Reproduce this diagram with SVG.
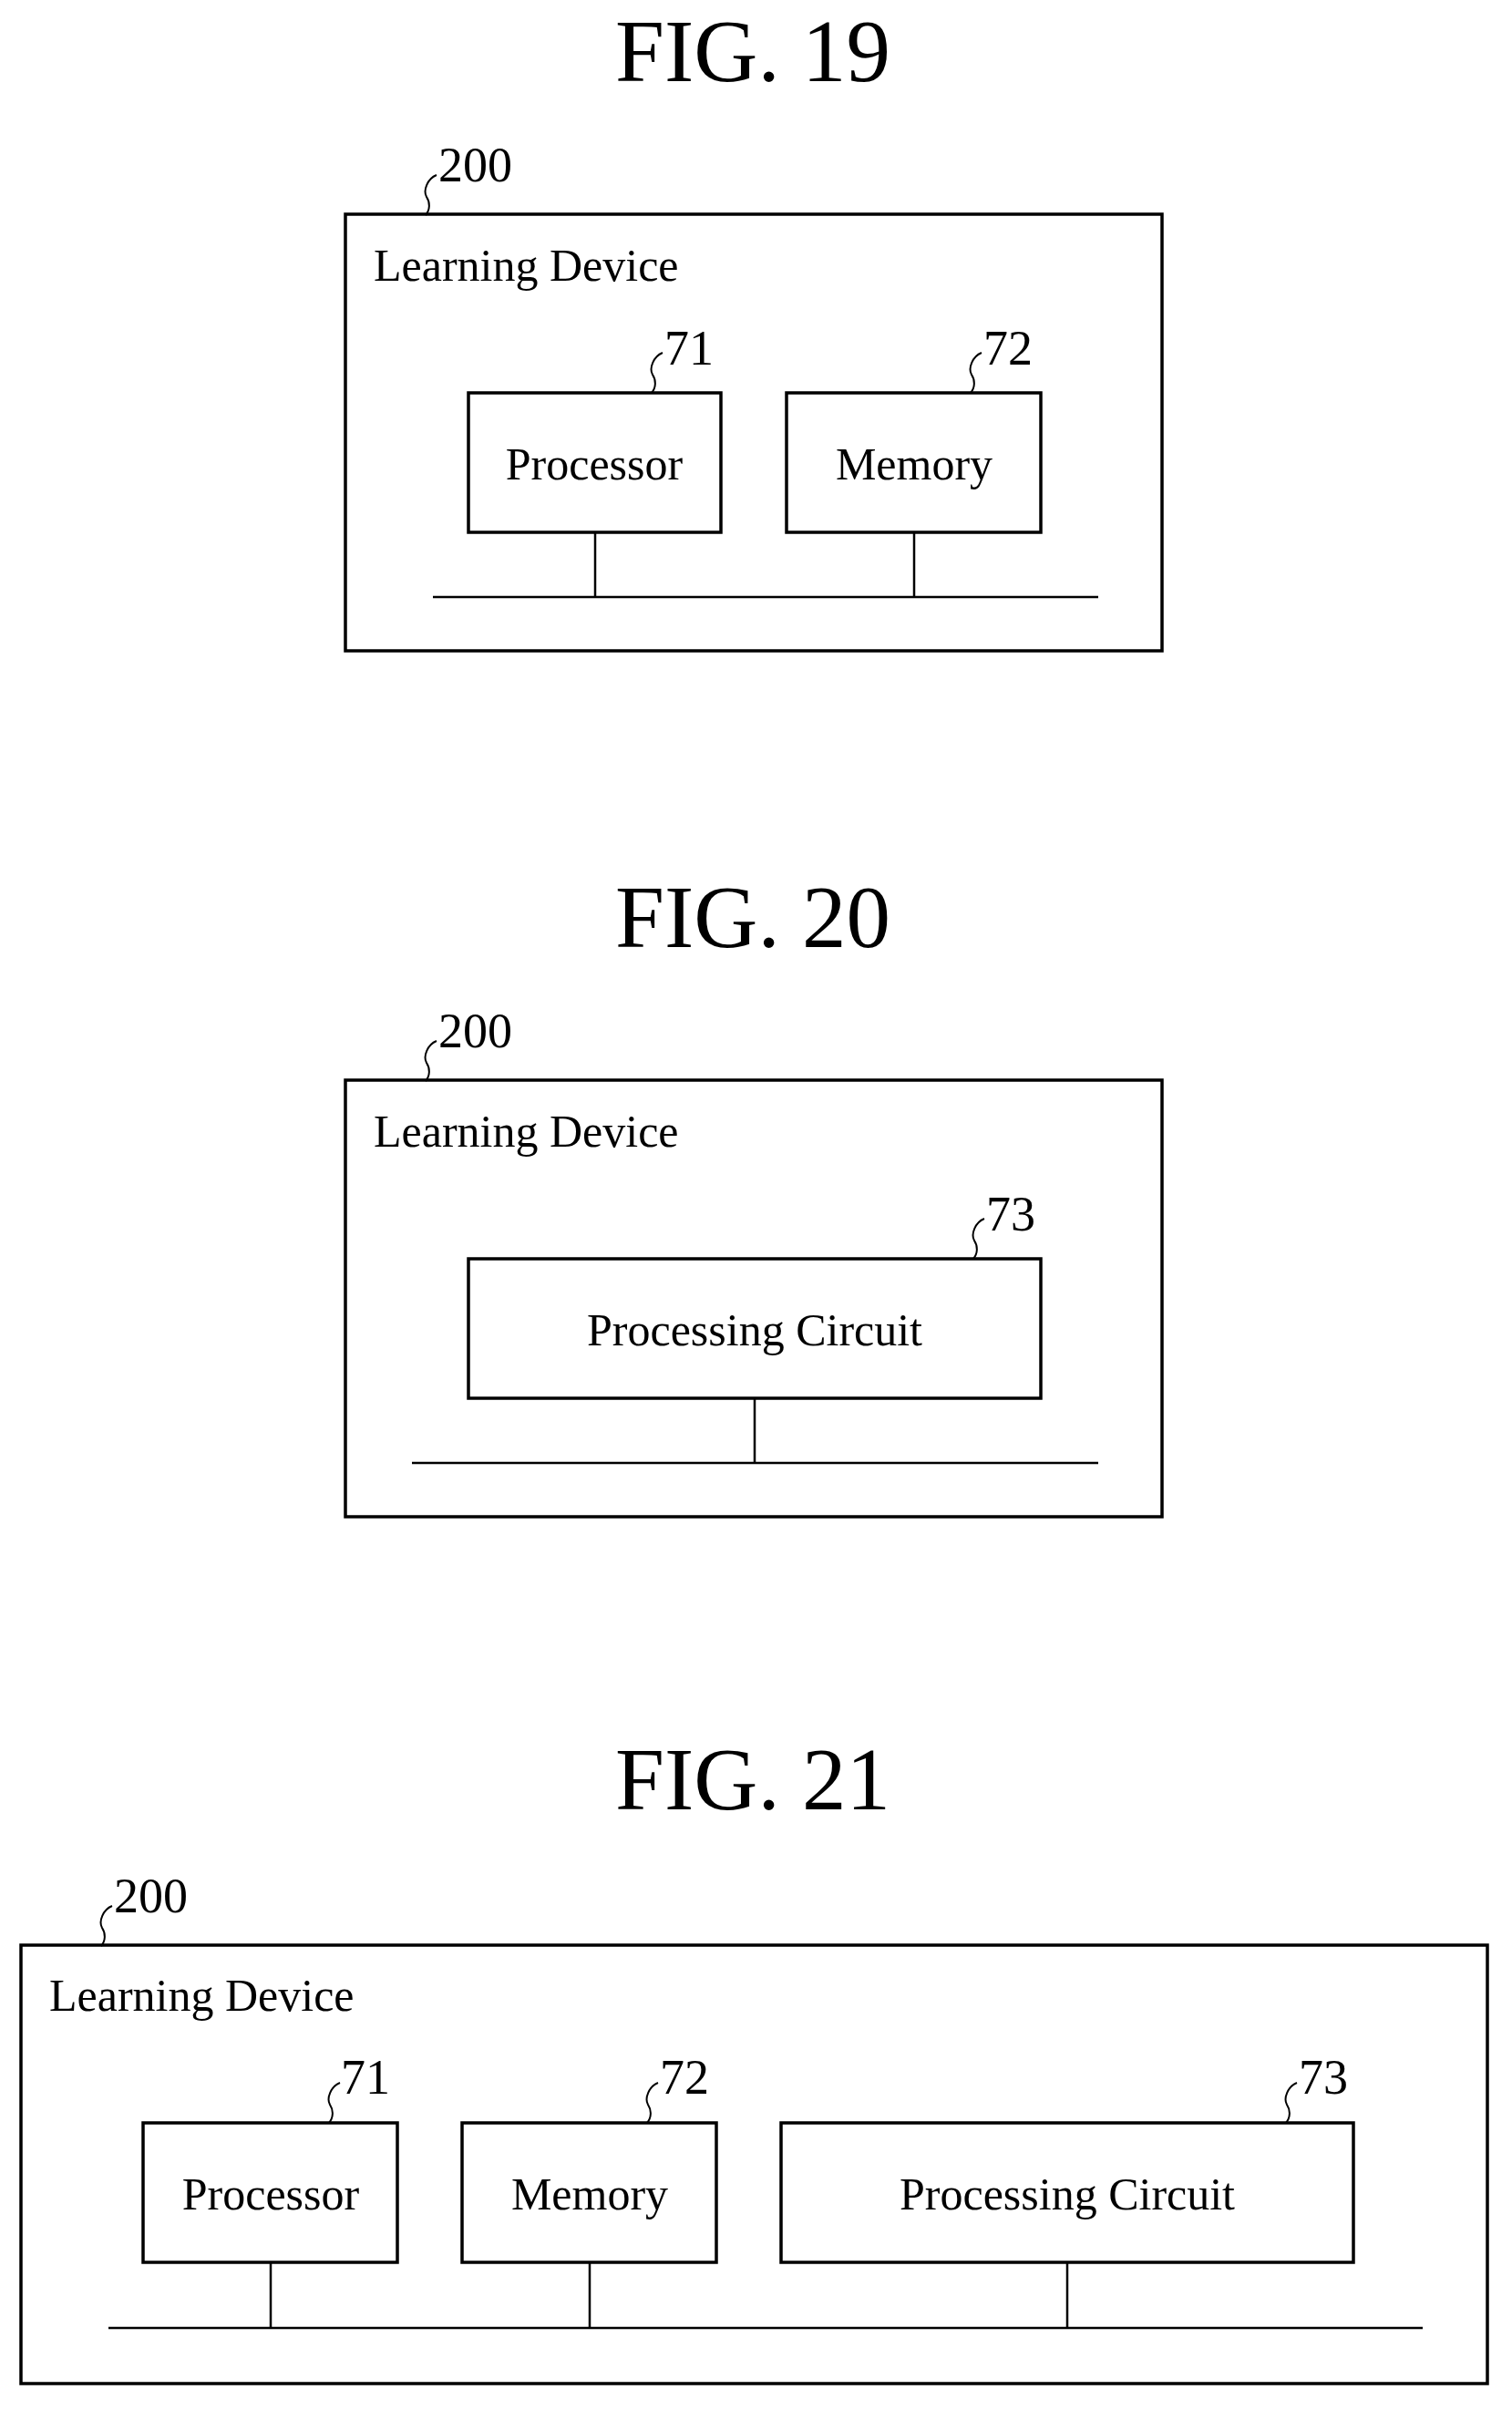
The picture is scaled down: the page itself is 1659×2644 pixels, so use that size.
<svg xmlns="http://www.w3.org/2000/svg" width="1659" height="2644" viewBox="0 0 1659 2644">
<defs>
<style>
text{font-family:"Liberation Serif","Times New Roman",serif;fill:#000}
.t{font-size:97px;text-anchor:middle}
.n{font-size:54px}
.l{font-size:50px}
.c{font-size:50px;text-anchor:middle}
.b{fill:#fff;stroke:#000;stroke-width:3.5}
.w{fill:none;stroke:#000;stroke-width:2.5}
.s{fill:none;stroke:#000;stroke-width:2}
</style>
<path id="sq" d="M0 0 C5 -6 5 -14 1 -20 C-3 -27 2 -40 12 -44" class="s"/>
</defs>
<rect width="1659" height="2644" fill="#fff"/>
<g id="fig19">
<text class="t" x="826" y="89">FIG. 19</text>
<g id="n19-200"><rect class="b" x="379" y="235" width="896" height="479"/><use href="#sq" x="467" y="236"/><text class="n" x="481" y="199">200</text><text class="l" x="410" y="308">Learning Device</text></g>
<g id="n19-71"><rect class="b" x="514" y="431" width="277" height="153"/><use href="#sq" x="715" y="431"/><text class="n" x="729" y="400">71</text><text class="c" x="652" y="526">Processor</text></g>
<g id="n19-72"><rect class="b" x="863" y="431" width="279" height="153"/><use href="#sq" x="1065" y="431"/><text class="n" x="1079" y="400">72</text><text class="c" x="1003" y="526">Memory</text></g>
<g id="c19"><path class="w" d="M475 655H1205M653 584V655M1003 584V655"/></g>
</g>
<g id="fig20">
<text class="t" x="826" y="1039">FIG. 20</text>
<g id="n20-200"><rect class="b" x="379" y="1185" width="896" height="479"/><use href="#sq" x="467" y="1186"/><text class="n" x="481" y="1149">200</text><text class="l" x="410" y="1258">Learning Device</text></g>
<g id="n20-73"><rect class="b" x="514" y="1381" width="628" height="153"/><use href="#sq" x="1068" y="1381"/><text class="n" x="1082" y="1350">73</text><text class="c" x="828" y="1476">Processing Circuit</text></g>
<g id="c20"><path class="w" d="M452 1605H1205M828 1534V1605"/></g>
</g>
<g id="fig21">
<text class="t" x="826" y="1985">FIG. 21</text>
<g id="n21-200"><rect class="b" x="23" y="2134" width="1609" height="481"/><use href="#sq" x="111" y="2135"/><text class="n" x="125" y="2098">200</text><text class="l" x="54" y="2206">Learning Device</text></g>
<g id="n21-71"><rect class="b" x="157" y="2329" width="279" height="153"/><use href="#sq" x="361" y="2329"/><text class="n" x="374" y="2297">71</text><text class="c" x="297" y="2424">Processor</text></g>
<g id="n21-72"><rect class="b" x="507" y="2329" width="279" height="153"/><use href="#sq" x="710" y="2329"/><text class="n" x="724" y="2297">72</text><text class="c" x="647" y="2424">Memory</text></g>
<g id="n21-73"><rect class="b" x="857" y="2329" width="628" height="153"/><use href="#sq" x="1411" y="2329"/><text class="n" x="1425" y="2297">73</text><text class="c" x="1171" y="2424">Processing Circuit</text></g>
<g id="c21"><path class="w" d="M119 2554H1561M297 2482V2554M647 2482V2554M1171 2482V2554"/></g>
</g>
</svg>
